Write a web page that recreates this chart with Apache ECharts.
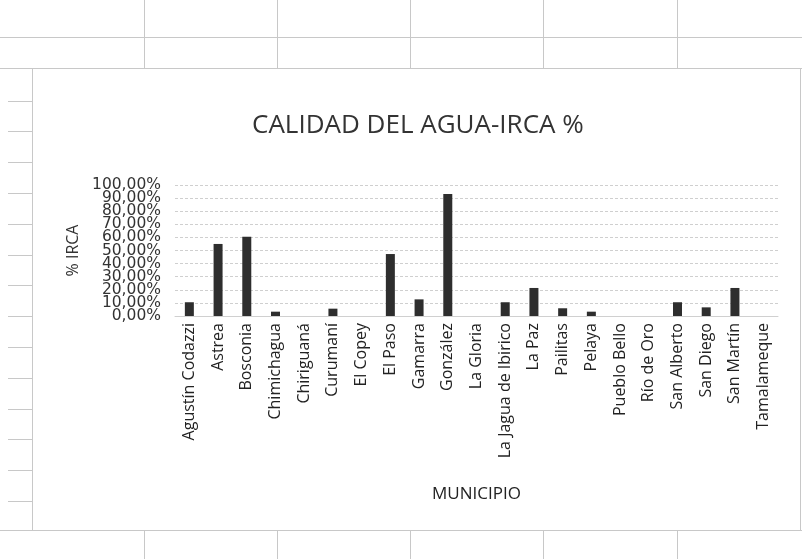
<!DOCTYPE html>
<html>
<head>
<meta charset="utf-8">
<script src="https://cdn.jsdelivr.net/npm/echarts@6/dist/echarts.min.js"></script>
<style>
html,body{margin:0;padding:0;background:#fff;}
#chart{width:802px;height:559px;}
</style>
</head>
<body>
<div id="chart"></div>
<script>
// Data
const municipios = ["Agustín Codazzi","Astrea","Bosconia","Chimichagua","Chiriguaná","Curumaní","El Copey","El Paso","Gamarra","González","La Gloria","La Jagua de Ibirico","La Paz","Pailitas","Pelaya","Pueblo Bello","Río de Oro","San Alberto","San Diego","San Martín","Tamalameque"];
const irca = [0.105,0.55,0.605,0.033,0,0.056,0,0.473,0.127,0.931,0,0.105,0.214,0.059,0.033,0,0,0.105,0.066,0.214,0];
const titleText = "CALIDAD DEL AGUA-IRCA %";
const yName = "% IRCA";
const xName = "MUNICIPIO";

const chart = echarts.init(document.getElementById('chart'));

// spreadsheet decoration
const lineStyle = {stroke:'#c8c8c8', lineWidth:1};
const g = [];
function hl(y,x1,x2){g.push({type:'line',shape:{x1:x1,y1:y,x2:x2,y2:y},style:lineStyle,silent:true});}
function vl(x,y1,y2){g.push({type:'line',shape:{x1:x,y1:y1,x2:x,y2:y2},style:lineStyle,silent:true});}
hl(37.5,0,802); hl(68.5,0,802); hl(530.5,0,802);
[144.5,277.5,410.5,543.5,677.5].forEach(x=>{vl(x,0,68);vl(x,530,559);});
vl(32.5,68,530); vl(800.5,68,530);
for(let y=100.5;y<530;y+=30.8){hl(Math.round(y)+0.5,8,32);}

const fmt = v=>(v*100).toFixed(2).replace('.',',')+'%';
const labelBase = {fontFamily:'DejaVu Sans',fontSize:15.5,color:'#333',margin:14};

chart.setOption({
  backgroundColor:'#ffffff',
  animation:false,
  graphic:g,
  title:{
    text:titleText,
    left:252,
    top:113,
    textStyle:{fontFamily:'Open Sans',fontWeight:'normal',fontSize:26,color:'#333'},
    padding:0
  },
  grid:{left:175,right:24,top:185,bottom:243,containLabel:false},
  xAxis:{
    type:'category',
    data:municipios,
    boundaryGap:true,
    axisLine:{show:true,lineStyle:{color:'#d0d0d0'}},
    axisTick:{show:false},
    axisLabel:{rotate:90,interval:0,fontFamily:'Open Sans',fontSize:16,color:'#222',margin:7},
    name:xName,
    nameLocation:'middle',
    nameGap:170,
    nameTextStyle:{fontFamily:'Open Sans',fontSize:17,color:'#222'}
  },
  yAxis:[{
    type:'value',
    min:0,max:1,interval:0.1,
    position:'left',
    axisLine:{show:false},
    axisTick:{show:false},
    splitLine:{show:true,lineStyle:{color:'#cfcfcf',type:[3,2]}},
    axisLabel:Object.assign({formatter:fmt},labelBase),
    name:yName,
    nameLocation:'middle',
    nameGap:94,
    nameRotate:90,
    nameTextStyle:{fontFamily:'Open Sans',fontSize:16,color:'#333'}
  },{
    type:'value',
    min:0,max:1,interval:0.1,
    position:'left',
    axisLine:{show:false},
    axisTick:{show:false},
    splitLine:{show:false},
    axisLabel:Object.assign({
      showMinLabel:true,showMaxLabel:true,
      formatter:v=>(v===0||v===1)?fmt(v):''
    },labelBase)
  }],
  series:[{
    type:'bar',
    data:irca,
    barWidth:9,
    itemStyle:{color:'#2e2e2e'}
  }]
});
</script>
</body>
</html>
